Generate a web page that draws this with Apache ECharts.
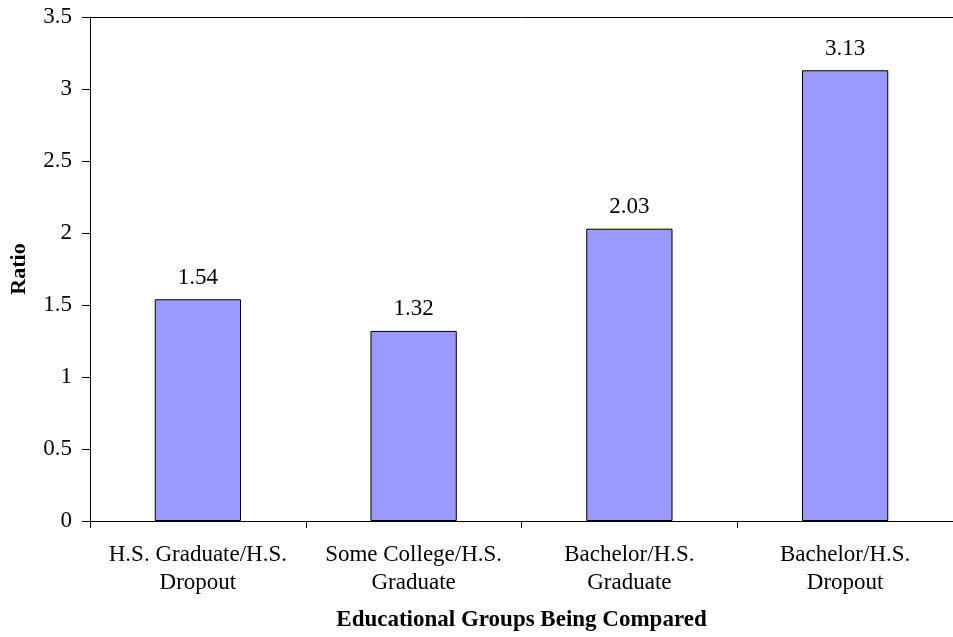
<!DOCTYPE html>
<html>
<head>
<meta charset="utf-8">
<script src="https://cdn.jsdelivr.net/npm/echarts@6/dist/echarts.min.js"></script>
<style>
  html, body { margin: 0; padding: 0; background: #fff; }
  #container { width: 953px; height: 637px; }
</style>
</head>
<body>
<div id="container"></div>
<script>
var categories = ['H.S. Graduate/H.S.\nDropout', 'Some College/H.S.\nGraduate', 'Bachelor/H.S.\nGraduate', 'Bachelor/H.S.\nDropout'];
var ratios = [1.54, 1.32, 2.03, 3.13];
var yTicks = { min: 0, max: 3.5, interval: 0.5 };

var font = '"Liberation Serif", "Times New Roman", serif';
var myChart = echarts.init(document.getElementById('container'));

var option = {
    animation: false,
    grid: { left: 90, top: 17, width: 872, height: 504, containLabel: false },
    xAxis: [{
        type: 'category',
        data: categories,
        name: 'Educational Groups Being Compared',
        nameLocation: 'middle',
        nameGap: 88,
        nameTextStyle: { fontFamily: font, fontSize: 23, fontWeight: 'bold', color: '#000' },
        axisLine: { lineStyle: { color: '#000', width: 1 } },
        axisTick: { show: true, length: 7, alignWithLabel: false, lineStyle: { color: '#000' } },
        axisLabel: { fontFamily: font, fontSize: 23, color: '#000', margin: 20, lineHeight: 28, interval: 0 }
    }, {
        // top border of the plot area
        type: 'category',
        position: 'top',
        data: categories,
        axisLine: { lineStyle: { color: '#000', width: 1 } },
        axisTick: { show: false },
        axisLabel: { show: false }
    }],
    yAxis: {
        type: 'value',
        min: yTicks.min,
        max: yTicks.max,
        interval: yTicks.interval,
        name: 'Ratio',
        nameLocation: 'middle',
        nameGap: 60,
        nameRotate: 90,
        nameTextStyle: { fontFamily: font, fontSize: 22, fontWeight: 'bold', color: '#000' },
        axisLine: { show: true, lineStyle: { color: '#000', width: 1 } },
        axisTick: { show: true, length: 8, lineStyle: { color: '#000' } },
        axisLabel: { fontFamily: font, fontSize: 23, color: '#000', margin: 18 },
        splitLine: { show: false }
    },
    series: [{
        type: 'bar',
        data: ratios,
        barWidth: '40%',
        itemStyle: { color: '#9999FF', borderColor: '#000', borderWidth: 1 },
        label: {
            show: true,
            position: 'top',
            distance: 10,
            fontFamily: font,
            fontSize: 23,
            color: '#000'
        }
    }]
};

myChart.setOption(option);
</script>
</body>
</html>
